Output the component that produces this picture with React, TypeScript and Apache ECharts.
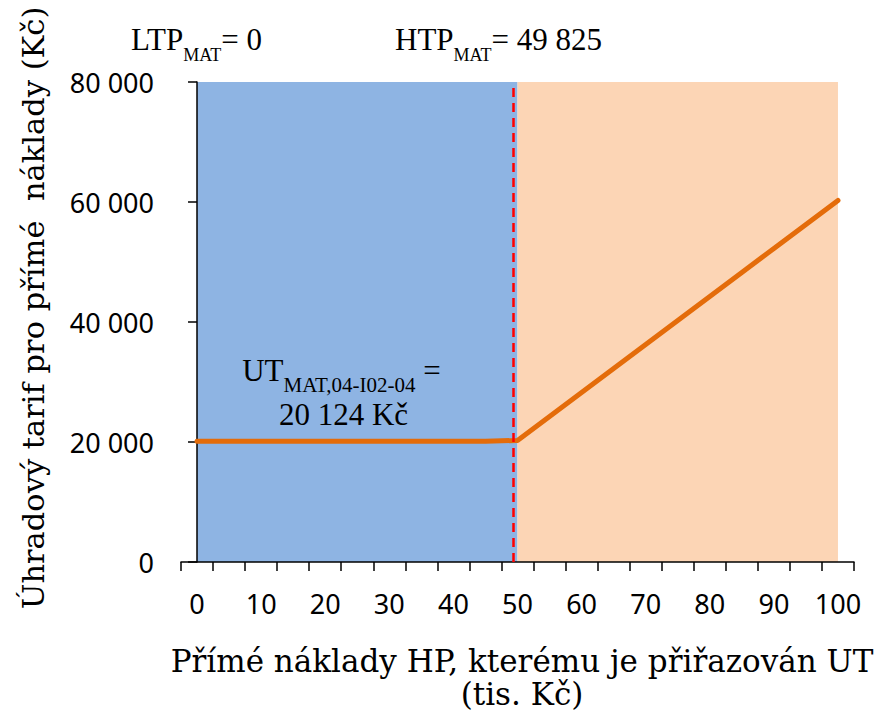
import React, { useEffect, useRef } from 'react';
import * as echarts from 'echarts';

// X categories (tis. Kč)
const categories = ['0', '5', '10', '15', '20', '25', '30', '35', '40', '45', '50', '55', '60', '65', '70', '75', '80', '85', '90', '95', '100'];
// Úhradový tarif (Kč)
const tariffValues = [20124, 20124, 20124, 20124, 20124, 20124, 20124, 20124, 20124, 20124, 20264, 24264, 28264, 32264, 36264, 40264, 44264, 48264, 52264, 56264, 60264];
// y axis
const yMin = 0;
const yMax = 80000;
const yInterval = 20000;
// bands and HTP line
const lowerBand = ['0', '50'];
const upperBand = ['50', '100'];
const htpLinePosition = 49.4;
const valueAxisRange = [-2.5, 102.5];

const SERIF = '"Liberation Serif", "Times New Roman", serif';
const TITLE_SERIF = '"DejaVu Serif", "Liberation Serif", serif';
const SANS = '"Noto Sans", "Open Sans", sans-serif';

function fmt(v: number): string {
  return String(v).replace(/\B(?=(\d{3})+(?!\d))/g, ' ');
}

export default function App() {
  const ref = useRef<HTMLDivElement>(null);
  useEffect(() => {
    document.body.style.margin = '0';
    if (!ref.current) return;
    const chart = echarts.init(ref.current, null, { renderer: 'svg' });
    const subRich = (subSize: number, subLH: number) => ({
      m: { fontFamily: SERIF, fontSize: 31, lineHeight: 40, verticalAlign: 'top', fill: '#000' },
      s: { fontFamily: SERIF, fontSize: subSize, lineHeight: subLH, verticalAlign: 'bottom', fill: '#000' },
    });
    const option: any = {
      animation: false,
      backgroundColor: '#ffffff',
      grid: { left: 181, right: 23, top: 82, bottom: 151, containLabel: false },
      xAxis: [
        {
          type: 'category',
          data: categories,
          boundaryGap: true,
          axisLine: { show: true, lineStyle: { color: '#000', width: 1.5 } },
          axisTick: { show: true, interval: 0, alignWithLabel: false, length: 9, lineStyle: { color: '#000', width: 1.5 } },
          axisLabel: { interval: 1, margin: 28, fontFamily: SANS, fontSize: 27, color: '#000' },
          splitLine: { show: false },
        },
        {
          type: 'value',
          min: valueAxisRange[0],
          max: valueAxisRange[1],
          show: false,
        },
      ],
      yAxis: {
        type: 'value',
        min: yMin,
        max: yMax,
        interval: yInterval,
        axisLine: { show: true, lineStyle: { color: '#000', width: 1.5 } },
        axisTick: { show: true, length: 9, lineStyle: { color: '#000', width: 1.5 } },
        axisLabel: { margin: 27, fontFamily: SANS, fontSize: 27, color: '#000', formatter: (v: number) => fmt(v) },
        splitLine: { show: false },
      },
      series: [
        {
          type: 'line',
          xAxisIndex: 1,
          data: [[htpLinePosition, yMin]],
          symbol: 'none',
          showSymbol: false,
          lineStyle: { opacity: 0 },
          z: 4,
          silent: true,
          markLine: {
            symbol: 'none',
            silent: true,
            z: 4,
            label: { show: false },
            lineStyle: { color: '#FF0000', width: 2.5, type: [9, 6] },
            data: [[{ coord: [htpLinePosition, yMin] }, { coord: [htpLinePosition, yMax] }]],
          },
        },
        {
          type: 'line',
          xAxisIndex: 0,
          data: tariffValues,
          symbol: 'none',
          z: 3,
          lineStyle: { color: '#E46C0A', width: 5, cap: 'round', join: 'round' },
          markArea: {
            silent: true,
            z: 0,
            data: [
              [{ xAxis: lowerBand[0], itemStyle: { color: '#8EB4E3' } }, { xAxis: lowerBand[1] }],
              [{ xAxis: upperBand[0], itemStyle: { color: '#FCD5B5' } }, { xAxis: upperBand[1] }],
            ],
          },
        },
      ],
      graphic: [
        {
          type: 'text',
          x: 131,
          y: 44,
          style: { text: '{m|LTP}{s|MAT}{m|= 0}', align: 'left', verticalAlign: 'middle', fill: '#000', rich: subRich(18, 33) },
        },
        {
          type: 'text',
          x: 395,
          y: 44,
          style: { text: '{m|HTP}{s|MAT}{m|= 49 825}', align: 'left', verticalAlign: 'middle', fill: '#000', rich: subRich(18, 33) },
        },
        {
          type: 'text',
          x: 341.5,
          y: 375,
          z: 10,
          style: { text: '{m|UT}{s|MAT,04-I02-04}{m| =}', align: 'center', verticalAlign: 'middle', fill: '#000', rich: subRich(21, 18) },
        },
        {
          type: 'text',
          x: 343.5,
          y: 414.5,
          z: 10,
          style: { text: '20 124 Kč', align: 'center', verticalAlign: 'middle', fontFamily: SERIF, fontSize: 31, fill: '#000' },
        },
        {
          type: 'text',
          x: 33,
          y: 308,
          rotation: Math.PI / 2,
          style: { text: 'Úhradový tarif pro přímé  náklady (Kč)', align: 'center', verticalAlign: 'middle', fontFamily: TITLE_SERIF, fontSize: 30.5, fill: '#000' },
        },
        {
          type: 'text',
          x: 522,
          y: 661,
          style: { text: 'Přímé náklady HP, kterému je přiřazován UT', align: 'center', verticalAlign: 'middle', fontFamily: TITLE_SERIF, fontSize: 31, fill: '#000' },
        },
        {
          type: 'text',
          x: 522,
          y: 694,
          style: { text: '(tis. Kč)', align: 'center', verticalAlign: 'middle', fontFamily: TITLE_SERIF, fontSize: 31, fill: '#000' },
        },
      ],
    };
    chart.setOption(option);
    return () => chart.dispose();
  }, []);
  return <div ref={ref} style={{ width: 877, height: 713 }} />;
}
